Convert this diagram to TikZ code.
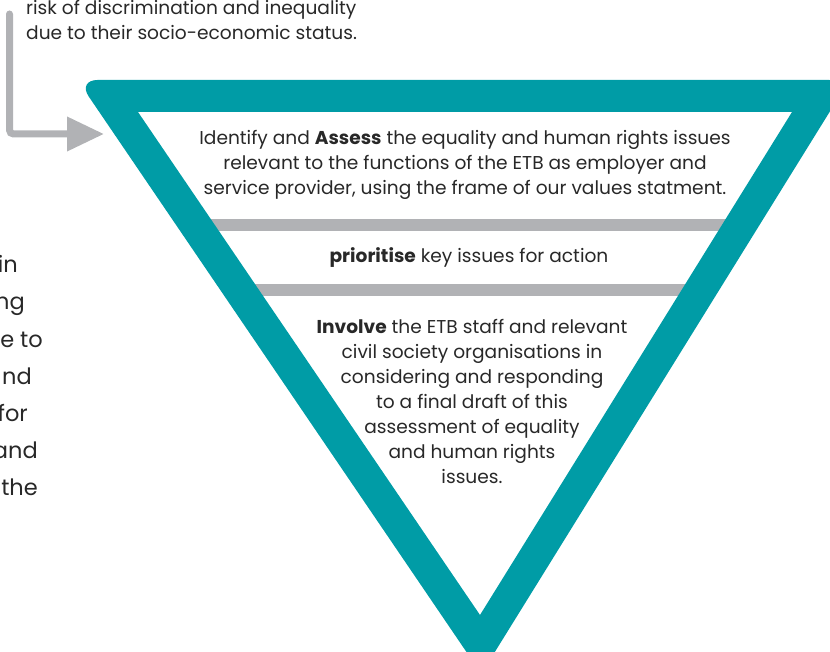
\documentclass[tikz,border=0pt]{standalone}
\usepackage{fontspec}
\setmainfont{Poppins}
\usetikzlibrary{arrows.meta}
\definecolor{frameteal}{RGB}{0,156,166}
\definecolor{bargray}{RGB}{177,178,181}
\definecolor{bodytext}{RGB}{40,40,40}
\tikzset{
  body/.style={text=bodytext, inner sep=0pt, font=\fontsize{18.6}{25}\selectfont},
  bodyblock/.style={body, align=center},
  sidetext/.style={text=bodytext, inner sep=0pt, font=\fontsize{22.5}{37}\selectfont},
  divider/.style={fill=bargray},
  pointer/.style={draw=bargray, line width=7pt, line cap=round, rounded corners=4pt,
    -{Triangle[length=37pt,width=33pt]}},
}
\begin{document}
\begin{tikzpicture}[x=1pt,y=-1pt]
\useasboundingbox (0,0) rectangle (830,652);

% divider bars between the three stages (ends hidden under the frame)
\fill[divider] (200,219) rectangle (740,231);
\fill[divider] (240,284) rectangle (705,296);

% inverted triangle frame
\fill[frameteal, even odd rule, rounded corners=20pt]
  (77.5,80) -- (849.4,80) -- (481.3,673.8) -- cycle
  [sharp corners] (138,112) -- (792,112) -- (480,615) -- cycle;

% stage texts
\node[bodyblock] (assess) at (465,165) {Identify and \textbf{Assess} the equality and human rights issues\\
  relevant to the functions of the ETB as employer and\\
  service provider, using the frame of our values statment.};
\node[body, anchor=base] (prioritise) at (469,263) {\textbf{prioritise} key issues for action};
\node[bodyblock] (involve) at (472,401) {\textbf{Involve} the ETB staff and relevant\\
  civil society organisations in\\
  considering and responding\\
  to a final draft of this\\
  assessment of equality\\
  and human rights\\
  issues.};

% text at the top left
\node[body, anchor=base west] (risk1) at (26,15) {risk of discrimination and inequality};
\node[body, anchor=base west] (risk2) at (26,40) {due to their socio-economic status.};

% paragraph running in from the left edge
\node[sidetext, anchor=base east] (p1) at (18,273) {in};
\node[sidetext, anchor=base east] (p2) at (25,310) {ng};
\node[sidetext, anchor=base east] (p3) at (43,347) {e to};
\node[sidetext, anchor=base east] (p4) at (32,384) {nd};
\node[sidetext, anchor=base east] (p5) at (28,421) {for};
\node[sidetext, anchor=base east] (p6) at (38,458) {and};
\node[sidetext, anchor=base east] (p7) at (38,495) {the};

% pointer into the frame
\coordinate (pstart) at (9.5,14);
\coordinate (ptip) at (104,134);
\draw[pointer] (pstart) |- (ptip);
\end{tikzpicture}
\end{document}
